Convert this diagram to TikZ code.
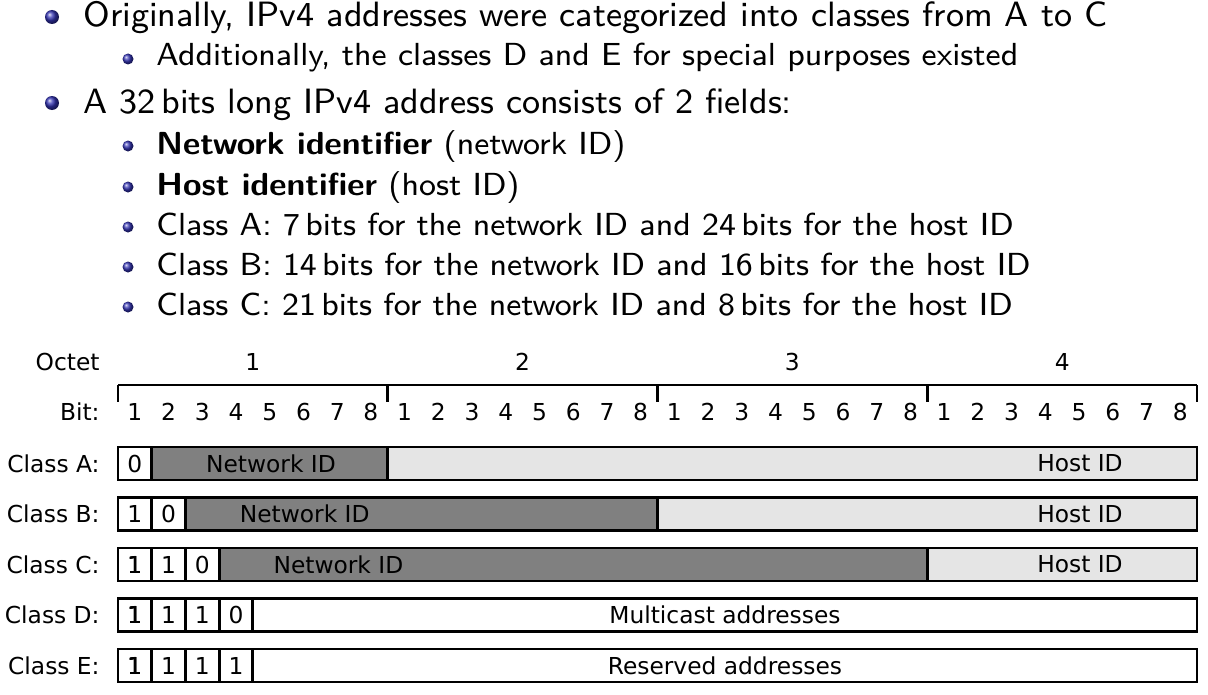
\documentclass[tikz,border=0pt]{standalone}
\usepackage{fontspec}
\newfontfamily\slidefontA{lmsans9-regular.otf}[BoldFont=lmsans10-bold.otf]
\newfontfamily\slidefontB{lmsans8-regular.otf}[BoldFont=lmsans10-bold.otf,BoldFeatures={FakeStretch=1.055}]
\newfontfamily\diagfont{DejaVu Sans}
\definecolor{structure}{rgb}{0.2,0.2,0.7}
\definecolor{netgray}{gray}{0.5}
\definecolor{hostgray}{gray}{0.9}
\def\bw{33.72}
\tikzset{
  ballA/.style={circle,inner sep=0pt,minimum size=14*0.25mm,shading=ball,ball color=structure},
  ballB/.style={circle,inner sep=0pt,minimum size=11*0.25mm,shading=ball,ball color=structure},
  itemA/.style={anchor=base west,inner sep=0pt,font=\slidefontA\fontsize{25}{30}\selectfont},
  itemB/.style={anchor=base west,inner sep=0pt,font=\slidefontB\fontsize{22.7}{28}\selectfont},
  lbl/.style={inner sep=0pt,font=\diagfont\fontsize{16.6}{19}\selectfont},
  rowlbl/.style={lbl,anchor=east},
}
% one field of a row: first bit, last bit, row centre, fill
\newcommand\field[4]{\filldraw[fill=#4] ({118+\bw*(#1)},{#3-16.5}) rectangle ({118+\bw*(#2)},{#3+16.5});}
\begin{document}
\begin{tikzpicture}[x=0.25mm,y=-0.25mm,line width=2pt]
  \useasboundingbox (0,0) rectangle (1208,694);
  % bullet list
  \node[ballA] (b1) at (52,17) {};
  \node[itemA] (t1) at (82,27) {Originally, IPv4 addresses were categorized into classes from A to C};
  \node[ballB] (b2) at (128,59) {};
  \node[itemB] (t2) at (155,66) {Additionally, the classes D and E for special purposes existed};
  \node[ballA] (b3) at (52,103) {};
  \node[itemA] (t3) at (82,113) {A 32\,bits long IPv4 address consists of 2 fields:};
  \node[ballB] (b4) at (128,146) {};
  \node[itemB] (t4) at (155,154) {\textbf{Network identifier} (network ID)};
  \node[ballB] (b5) at (128,187) {};
  \node[itemB] (t5) at (155,195) {\textbf{Host identifier} (host ID)};
  \node[ballB] (b6) at (128,227) {};
  \node[itemB] (t6) at (155,235) {Class A: 7\,bits for the network ID and 24\,bits for the host ID};
  \node[ballB] (b7) at (128,267) {};
  \node[itemB] (t7) at (155,275) {Class B: 14\,bits for the network ID and 16\,bits for the host ID};
  \node[ballB] (b8) at (128,307) {};
  \node[itemB] (t8) at (155,315) {Class C: 21\,bits for the network ID and 8\,bits for the host ID};

  % ruler
  \node[rowlbl] (octet) at (101,362) {Octet};
  \node[rowlbl] (bit) at (101,412) {Bit:};
  \draw (118,385) -- (1197,385);
  \foreach \o in {0,...,4}
    \draw ({118+8*\bw*\o},385) -- ({118+8*\bw*\o},402);
  \foreach \o in {1,...,4}
    \node[lbl] (oct\o) at ({118+8*\bw*(\o-0.5)},362) {\o};
  \foreach \i [evaluate=\i as \n using {int(mod(\i-1,8)+1)}] in {1,...,32}
    \node[lbl] (bit\i) at ({118+\bw*(\i-0.5)},412) {\n};

  % Class A
  \node[rowlbl] (clsA) at (101,463.5) {Class A:};
  \field{0}{1}{463.5}{white}
  \field{1}{8}{463.5}{netgray}
  \field{8}{32}{463.5}{hostgray}
  \node[lbl] (A1) at ({118+\bw*0.5},463.5) {0};
  \node[lbl,anchor=west] (Anet) at ({118+\bw+53},463.5) {Network ID};
  \node[lbl] (Ahost) at (1080,463.5) {Host ID};

  % Class B
  \node[rowlbl] (clsB) at (101,514) {Class B:};
  \field{0}{1}{514}{white}
  \field{1}{2}{514}{white}
  \field{2}{16}{514}{netgray}
  \field{16}{32}{514}{hostgray}
  \node[lbl] (B1) at ({118+\bw*0.5},514) {1};
  \node[lbl] (B2) at ({118+\bw*1.5},514) {0};
  \node[lbl,anchor=west] (Bnet) at ({118+2*\bw+53},514) {Network ID};
  \node[lbl] (Bhost) at (1080,514) {Host ID};

  % Class C
  \node[rowlbl] (clsC) at (101,564.5) {Class C:};
  \foreach \i in {0,1,2} \field{\i}{\i+1}{564.5}{white}
  \field{3}{24}{564.5}{netgray}
  \field{24}{32}{564.5}{hostgray}
  \node[lbl] (C1) at ({118+\bw*0.5},564.5) {1};
  \node[lbl] (C2) at ({118+\bw*1.5},564.5) {1};
  \node[lbl] (C3) at ({118+\bw*2.5},564.5) {0};
  \node[lbl,anchor=west] (Cnet) at ({118+3*\bw+53},564.5) {Network ID};
  \node[lbl] (Chost) at (1080,564.5) {Host ID};

  % Class D
  \node[rowlbl] (clsD) at (101,615) {Class D:};
  \foreach \i in {0,...,3} \field{\i}{\i+1}{615}{white}
  \field{4}{32}{615}{white}
  \node[lbl] (D1) at ({118+\bw*0.5},615) {1};
  \node[lbl] (D2) at ({118+\bw*1.5},615) {1};
  \node[lbl] (D3) at ({118+\bw*2.5},615) {1};
  \node[lbl] (D4) at ({118+\bw*3.5},615) {0};
  \node[lbl] (Dmc) at ({118+\bw*18},615) {Multicast addresses};

  % Class E
  \node[rowlbl] (clsE) at (101,665.5) {Class E:};
  \foreach \i in {0,...,3} \field{\i}{\i+1}{665.5}{white}
  \field{4}{32}{665.5}{white}
  \node[lbl] (E1) at ({118+\bw*0.5},665.5) {1};
  \node[lbl] (E2) at ({118+\bw*1.5},665.5) {1};
  \node[lbl] (E3) at ({118+\bw*2.5},665.5) {1};
  \node[lbl] (E4) at ({118+\bw*3.5},665.5) {1};
  \node[lbl] (Eres) at ({118+\bw*18},665.5) {Reserved addresses};
\end{tikzpicture}
\end{document}
